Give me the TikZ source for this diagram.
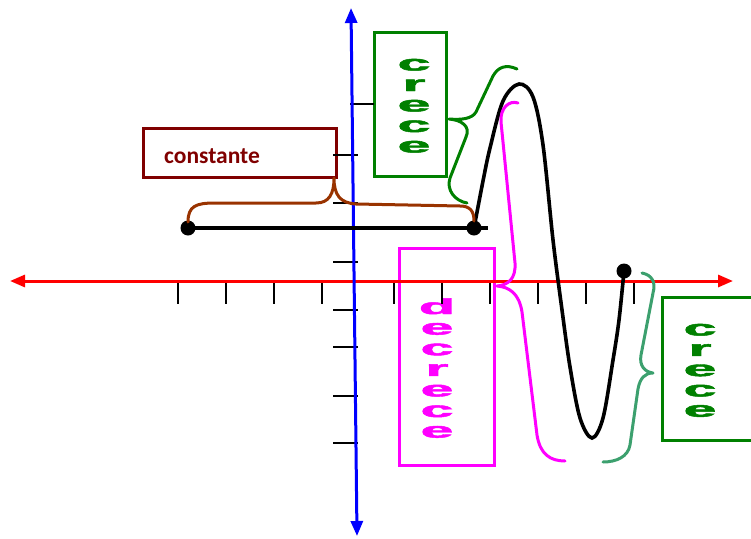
\documentclass[tikz,border=0pt]{standalone}
\usepackage{fontspec}
\usepackage{graphicx}
\usetikzlibrary{arrows.meta}
\newfontfamily\boxfont{Carlito}
\newfontfamily\stackfont[FakeBold=2]{Liberation Sans}
\definecolor{axred}{RGB}{255,0,0}
\definecolor{axblue}{RGB}{0,0,255}
\definecolor{dkred}{RGB}{128,0,0}
\definecolor{brownbr}{RGB}{153,51,0}
\definecolor{grn}{RGB}{0,128,0}
\definecolor{mag}{RGB}{255,0,255}
\definecolor{teal2}{RGB}{60,160,110}
\newcommand{\wl}[1]{\scalebox{2.95}[1.08]{#1}}
\tikzset{
  tip/.tip={Triangle[length=15pt,width=12pt]},
  tick/.style={line width=1.4pt, black},
  lbox/.style={draw, line width=3pt, inner sep=0pt, fill=none},
  brace/.style={line width=3pt, line cap=round, line join=round},
  letter/.style={anchor=base, inner sep=0pt, font=\stackfont\bfseries\fontsize{20}{20}\selectfont},
  dot/.style={circle, fill=black, inner sep=0pt, minimum size=15pt}
}
\begin{document}
\begin{tikzpicture}[x=1pt,y=-1pt]
\useasboundingbox (0,0) rectangle (751,538);
\clip (0,0) rectangle (751,538);
% boxes
\node[lbox, draw=dkred, minimum width=193pt, minimum height=49pt] (bconst) at (239.5,152.5) {};
\node[anchor=west, text=dkred, font=\boxfont\bfseries\fontsize{23.5}{24}\selectfont, inner sep=0pt] (tconst) at (164,156) {constante};
\node[lbox, draw=grn, minimum width=72pt, minimum height=144pt] (bcrece) at (410,104.5) {};
\foreach \l [count=\i from 0] in {c,r,e,c,e}
  \node[letter, text=grn] (ca\i) at (414,70.5+20.5*\i) {\wl{\l}};
\node[lbox, draw=mag, minimum width=95pt, minimum height=217pt] (bdec) at (446.5,356.5) {};
\foreach \l [count=\i from 0] in {d,e,c,r,e,c,e}
  \node[letter, text=mag] (da\i) at (437,314+20.6*\i) {\wl{\l}};
\node[lbox, draw=grn, minimum width=120pt, minimum height=143pt] (bcrece2) at (722,368.5) {};
\foreach \l [count=\i from 0] in {c,r,e,c,e}
  \node[letter, text=grn] (cb\i) at (700,335.5+20.3*\i) {\wl{\l}};
% x axis ticks
\foreach \x in {178,226,274,322,394,442,490,538,586,634}
  \draw[tick] (\x,281) -- (\x,304);
% y axis ticks
\draw[tick] (350,104) -- (374,104);
\foreach \y in {155,203,262,310,347,396,443}
  \draw[tick] (333,\y) -- (358,\y);
% axes
\draw[line width=3pt, axred, tip-tip] (10,281) -- (733,281);
\draw[line width=3pt, axblue, tip-tip] (351,8) -- (357,536);
% black function
\node[dot] (p1) at (188,228) {};
\node[dot] (p2) at (474,228) {};
\node[dot] (p3) at (624,271) {};
\coordinate (lend) at (488,228);
\draw[line width=3.2pt] (p1.center) -- (lend);
\draw[line width=3.6pt, line cap=round] plot[smooth, tension=0.55] coordinates {(474,228) (483,181) (490,148) (503,101) (519,84) (533,97) (543,145) (553,240) (562,310) (570,367) (580,418) (592,438) (603,418) (613,360) (619,320) (624,271)};
% braces
\draw[brace, brownbr] (188,222) .. controls (188,206) and (196,203) .. (215,203) -- (316,203) .. controls (329,203) and (334,194) .. (334,178) .. controls (334,195) and (340,203) .. (356,204) -- (460,206) .. controls (470,206) and (474,211) .. (474,221);
\draw[brace, grn] (517,69) .. controls (506,64) and (498,67) .. (493,76) -- (476,112) .. controls (472,119) and (461,120) .. (449,119) .. controls (461,120) and (471,126) .. (466,137) -- (450,178) .. controls (446,190) and (455,201) .. (467,203);
\draw[brace, mag] (518,103) .. controls (509,100) and (500,108) .. (501,122) -- (515,263) .. controls (516,279) and (508,285) .. (497,286) .. controls (509,287) and (519,293) .. (522,312) -- (537,435) .. controls (540,454) and (550,461) .. (565,461);
\draw[brace, teal2] (642,273) .. controls (652,275) and (656,282) .. (653,293) -- (641,355) .. controls (639,366) and (645,372) .. (653,373) .. controls (645,373) and (640,378) .. (638,389) -- (630,445) .. controls (628,457) and (616,462) .. (603,462);
\end{tikzpicture}
\end{document}
